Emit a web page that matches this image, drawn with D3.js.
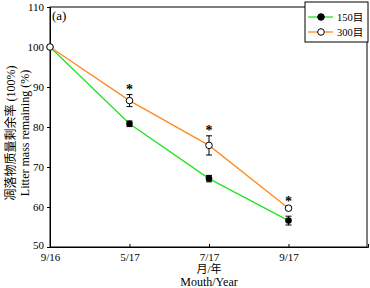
<!DOCTYPE html>
<html><head><meta charset="utf-8">
<script src="https://cdn.jsdelivr.net/npm/d3@7"></script>
<style>body{margin:0;background:#fff}svg{display:block}
text{font-family:"Liberation Serif","Times New Roman",serif}
.cjk{font-family:"Liberation Serif","Noto Sans CJK SC",serif}</style>
</head><body>
<script>
const categories = ["9/16", "5/17", "7/17", "9/17"];
const series150 = [100, 80.8, 67.1, 56.6];
const err150 = [0, 0.7, 0.8, 1.1];
const series300 = [100, 86.6, 75.4, 59.7];
const err300 = [0, 1.5, 2.4, 0.4];
const signif = [false, true, true, true];
const yTicks = [50, 60, 70, 80, 90, 100, 110];
const legendLabels = ["150目", "300目"];

const W = 370, H = 288;
const svg = d3.select("body").append("svg").attr("width", W).attr("height", H);

const x = d3.scaleLinear().domain([0, 4]).range([50, 368]);
const y = d3.scaleLinear().domain([50, 110]).range([247, 7]);

svg.append("rect").attr("x", 50).attr("y", 7).attr("width", 317).attr("height", 240)
  .attr("fill", "none").attr("stroke", "#000").attr("stroke-width", 1);

const yAxis = svg.append("g").attr("transform", "translate(50,0)")
  .call(d3.axisLeft(y).tickValues(yTicks).tickSize(3).tickPadding(3));
const xAxis = svg.append("g").attr("transform", "translate(0,247)")
  .call(d3.axisBottom(x).tickValues(d3.range(categories.length)).tickFormat(i => categories[i]).tickSize(-3).tickPadding(6));
[yAxis, xAxis].forEach(a => {
  a.attr("font-family", null);
  a.select(".domain").attr("stroke", "#000");
  a.selectAll("text").style("font-family", '"Liberation Serif", serif').attr("font-size", 11).attr("fill", "#000");
  a.selectAll("line").attr("stroke", "#000");
});
yAxis.selectAll(".tick").filter(d => d === 50).select("text").attr("dy", "0.1em");

const line = d3.line().x((d, i) => x(i)).y(d => y(d));
svg.append("path").datum(series150).attr("d", line).attr("fill", "none").attr("stroke", "#22e422").attr("stroke-width", 1.3);
svg.append("path").datum(series300).attr("d", line).attr("fill", "none").attr("stroke", "#ff8a1e").attr("stroke-width", 1.3);

function errBars(vals, errs) {
  vals.forEach((v, i) => {
    if (!errs[i]) return;
    const g = svg.append("g").attr("stroke", "#000").attr("stroke-width", 1);
    const cx = x(i);
    g.append("line").attr("x1", cx).attr("x2", cx).attr("y1", y(v - errs[i])).attr("y2", y(v + errs[i]));
    g.append("line").attr("x1", cx - 3).attr("x2", cx + 3).attr("y1", y(v - errs[i])).attr("y2", y(v - errs[i]));
    g.append("line").attr("x1", cx - 3).attr("x2", cx + 3).attr("y1", y(v + errs[i])).attr("y2", y(v + errs[i]));
  });
}
errBars(series150, err150);
errBars(series300, err300);

svg.selectAll(".m150").data(series150).enter().append("circle")
  .attr("cx", (d, i) => x(i)).attr("cy", d => y(d)).attr("r", 3.3).attr("fill", "#000");
svg.selectAll(".m300").data(series300).enter().append("circle")
  .attr("cx", (d, i) => x(i)).attr("cy", d => y(d)).attr("r", 3.3).attr("fill", "#fff").attr("stroke", "#000").attr("stroke-width", 1);

series300.forEach((v, i) => {
  if (!signif[i]) return;
  svg.append("text").attr("x", x(i)).attr("y", y(v + err300[i]) - 1)
    .attr("text-anchor", "middle").attr("font-size", 14).attr("font-weight", "bold").text("*");
});

svg.append("text").attr("x", 52).attr("y", 20).attr("font-size", 13).text("(a)");

const lg = svg.append("g");
lg.append("rect").attr("x", 305).attr("y", 2).attr("width", 63).attr("height", 40).attr("fill", "#fff").attr("stroke", "#000");
const lcolors = ["#22e422", "#ff8a1e"];
legendLabels.forEach((lab, i) => {
  const ly = 17 + i * 15;
  lg.append("line").attr("x1", 308).attr("x2", 333).attr("y1", ly).attr("y2", ly).attr("stroke", lcolors[i]).attr("stroke-width", 1.3);
  lg.append("circle").attr("cx", 321).attr("cy", ly).attr("r", 3.3)
    .attr("fill", i === 0 ? "#000" : "#fff").attr("stroke", "#000");
  lg.append("text").attr("class", "cjk").attr("x", 337).attr("y", ly + 4).attr("font-size", 10.5).text(lab);
});

svg.append("text").attr("class", "cjk").attr("x", 209).attr("y", 273).attr("text-anchor", "middle").attr("font-size", 11).text("月/年");
svg.append("text").attr("x", 209).attr("y", 286).attr("text-anchor", "middle").attr("font-size", 12).text("Mouth/Year");
svg.append("text").attr("class", "cjk").attr("transform", "translate(15,133) rotate(-90)").attr("text-anchor", "middle").attr("font-size", 12).text("凋落物质量剩余率 (100%)");
svg.append("text").attr("transform", "translate(29,133) rotate(-90)").attr("text-anchor", "middle").attr("font-size", 12).text("Litter mass remaining (%)");
</script>
</body></html>
